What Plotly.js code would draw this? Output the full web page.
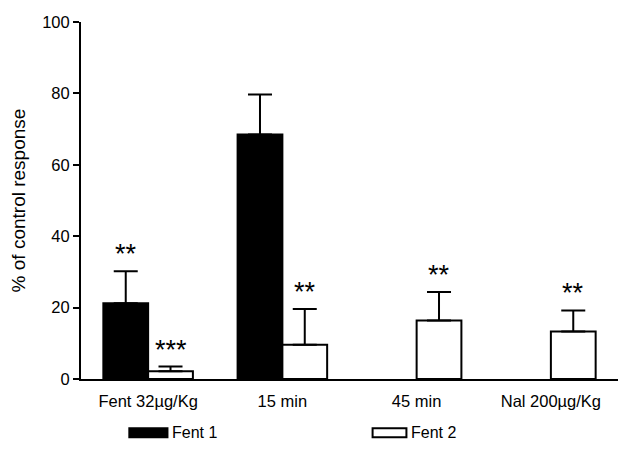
<!DOCTYPE html>
<html>
<head>
<meta charset="utf-8">
<script src="https://cdn.plot.ly/plotly-3.0.1.min.js"></script>
<style>html,body{margin:0;padding:0;background:#fff;}#chart{width:618px;height:455px;}</style>
</head>
<body>
<div id="chart"></div>
<script>
var categories = ["Fent 32µg/Kg", "15 min", "45 min", "Nal 200µg/Kg"];
var seriesNames = ["Fent 1", "Fent 2"];
var fent1Values = [21.2, 68.5, null, null];
var fent1Errors = [9.0, 11.2, null, null];
var fent2Values = [2.2, 9.6, 16.4, 13.3];
var fent2Errors = [1.3, 10.0, 8.0, 5.9];
var fent1Stars = ["**", "", "", ""];
var fent2Stars = ["***", "**", "**", "**"];

var FONT = "Liberation Sans, Arial, sans-serif";

var traces = [
  {
    type: "bar", name: seriesNames[0], x: categories, y: fent1Values,
    marker: {color: "#000", line: {color: "#000", width: 2}},
    error_y: {type: "data", symmetric: false, array: fent1Errors, arrayminus: fent1Errors.map(function(){return 0;}),
              color: "#000", thickness: 2, width: 12},
    showlegend: false
  },
  {
    type: "bar", name: seriesNames[1], x: categories, y: fent2Values,
    marker: {color: "#fff", line: {color: "#000", width: 2}},
    error_y: {type: "data", symmetric: false, array: fent2Errors, arrayminus: fent2Errors.map(function(){return 0;}),
              color: "#000", thickness: 2, width: 12},
    showlegend: false
  }
];

var annotations = [];
function addStars(vals, errs, stars, shift) {
  for (var i = 0; i < categories.length; i++) {
    if (!stars[i] || vals[i] == null) continue;
    annotations.push({
      x: categories[i], y: vals[i] + (errs[i] || 0), xref: "x", yref: "y",
      text: stars[i], showarrow: false, xshift: shift, yshift: 17,
      yanchor: "middle", xanchor: "center",
      font: {family: FONT, size: 27, color: "#000"}
    });
  }
}
addStars(fent1Values, fent1Errors, fent1Stars, -22.5);
addStars(fent2Values, fent2Errors, fent2Stars, 22.5);

// custom legend
var legendItems = [
  {name: seriesNames[0], fill: "#000", x0: 0.09, x1: 0.161},
  {name: seriesNames[1], fill: "#fff", x0: 0.543, x1: 0.606}
];
var shapes = [];
legendItems.forEach(function(it) {
  shapes.push({type: "rect", xref: "paper", yref: "paper", x0: it.x0, x1: it.x1, y0: -0.163, y1: -0.138,
               fillcolor: it.fill, line: {color: "#000", width: 2}});
  annotations.push({xref: "paper", yref: "paper", x: it.x1 + 0.004, y: -0.151, xanchor: "left", yanchor: "middle",
                    text: it.name, showarrow: false, font: {family: FONT, size: 16, color: "#000"}});
});

var layout = {
  width: 618, height: 455,
  margin: {l: 81, r: 0, t: 22, b: 76},
  paper_bgcolor: "#fff", plot_bgcolor: "#fff",
  barmode: "group", bargap: 0.333, bargroupgap: 0,
  font: {family: FONT, color: "#000"},
  xaxis: {
    type: "category", range: [-0.5, 3.5], showline: true, linecolor: "#000", linewidth: 2,
    ticks: "outside", ticklen: 6, tickcolor: "rgba(0,0,0,0)", showgrid: false, zeroline: false,
    tickfont: {family: FONT, size: 16.5, color: "#000"}
  },
  yaxis: {
    range: [0, 100], tickvals: [0, 20, 40, 60, 80, 100], showline: true, linecolor: "#000", linewidth: 2,
    ticks: "outside", ticklen: 6, tickwidth: 2, tickcolor: "#000", showgrid: false, zeroline: false,
    tickfont: {family: FONT, size: 16.5, color: "#000"},
    title: {text: "% of control response", font: {family: FONT, size: 19, color: "#000"}, standoff: 12}
  },
  annotations: annotations,
  shapes: shapes,
  showlegend: false
};

Plotly.newPlot("chart", traces, layout, {displayModeBar: false, staticPlot: true});
</script>
</body>
</html>
